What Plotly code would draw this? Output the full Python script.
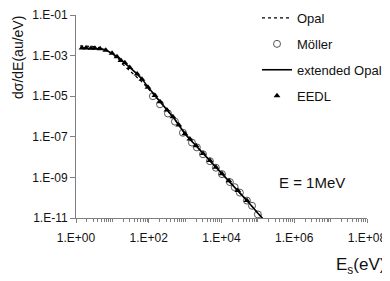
import plotly.graph_objects as go

# extended Opal (solid line)
ext_E = [1.3, 2, 3, 5, 7, 10, 15, 20, 30, 50, 70, 100, 200, 300, 500, 1000,
         2000, 3000, 5000, 1e4, 2e4, 5e4, 1e5, 2e5]
ext_y = [2.34e-3, 2.34e-3, 2.29e-3, 2.19e-3, 1.78e-3, 1.26e-3, 7.6e-4, 4.7e-4,
         2.6e-4, 1.15e-4, 6.0e-5, 2.5e-5, 5.6e-6, 2.4e-6, 7.9e-7, 1.38e-7,
         3.6e-8, 1.58e-8, 6.5e-9, 1.58e-9, 4.4e-10, 7.2e-11, 1.7e-11, 4.5e-12]

# Opal (dashed line)
opal_E = [1.3, 2, 3, 5, 7, 10, 15, 20, 30, 50, 70, 100, 200, 500, 1000, 2000,
          5000, 1e4, 2e4, 5e4, 1e5, 2e5]
opal_y = [3.0e-3, 3.0e-3, 2.8e-3, 2.4e-3, 1.82e-3, 1.2e-3, 6.3e-4, 3.5e-4,
          1.8e-4, 7.9e-5, 4.5e-5, 2.2e-5, 5.6e-6, 7.9e-7, 1.38e-7, 3.6e-8,
          6.5e-9, 1.58e-9, 4.4e-10, 7.2e-11, 1.7e-11, 4.5e-12]

# Moller (open circles)
moller_E = [130, 204, 337, 525, 870, 1540, 2100, 3100, 4800, 7000, 1.03e4,
            1.7e4, 2.3e4, 3.2e4, 5.0e4, 6.9e4, 1.0e5]
moller_y = [1.0e-5, 4.0e-6, 1.41e-6, 5.6e-7, 1.58e-7, 5.2e-8, 3.0e-8, 1.38e-8,
            6.3e-9, 3.0e-9, 1.45e-9, 5.9e-10, 3.3e-10, 1.78e-10, 7.2e-11,
            4.0e-11, 1.5e-11]

# EEDL (filled triangles)
eedl_E = [1.46, 1.88, 2.6, 3.3, 4.6, 6.6, 9.8, 13.4, 17.2, 22, 30, 48, 65, 95,
          148, 204, 316, 460, 670, 990, 1350, 2000, 3100, 4800, 7000, 1.03e4,
          1.6e4, 2.8e4, 5.0e4]
eedl_y = [2.34e-3, 2.34e-3, 2.3e-3, 2.3e-3, 2.2e-3, 1.82e-3, 1.29e-3, 8.7e-4,
          5.8e-4, 4.4e-4, 2.6e-4, 1.23e-4, 6.8e-5, 2.75e-5, 1.07e-5, 5.4e-6,
          2.1e-6, 9.8e-7, 3.8e-7, 1.41e-7, 7.8e-8, 3.6e-8, 1.51e-8, 6.8e-9,
          3.2e-9, 1.51e-9, 6.8e-10, 2.24e-10, 7.2e-11]

x_label_exp = [0, 2, 4, 6, 8]
x_tick_text = ["1.E+00", "1.E+02", "1.E+04", "1.E+06", "1.E+08"]
y_tick_exp = [-1, -3, -5, -7, -9, -11]
y_tick_text = ["1.E-01", "1.E-03", "1.E-05", "1.E-07", "1.E-09", "1.E-11"]

FONT = "Liberation Sans, Arial, sans-serif"
AX = "#808080"

# the page body has an 8px margin, so the figure is drawn 8px smaller
OFF = 8
W, H = 390 - OFF, 281 - OFF
# plot area in screen pixels: x 76..367, y 15..218
PL, PR, PT, PB = 76, 367, 15, 218
PW, PH = PR - PL, PB - PT


def px(xp):
    return (xp - PL) / PW


def py(yp):
    return (PB - yp) / PH


fig = go.Figure()
fig.add_trace(go.Scatter(x=opal_E, y=opal_y, mode="lines", name="Opal",
                         legendgroup="a",
                         line=dict(color="black", width=1.2, dash="3px,3px")))
fig.add_trace(go.Scatter(x=moller_E, y=moller_y, mode="markers", name="Möller",
                         legendgroup="b",
                         marker=dict(symbol="circle-open", size=7, color="#555555",
                                     line=dict(width=1, color="#555555"))))
fig.add_trace(go.Scatter(x=ext_E, y=ext_y, mode="lines", name="extended Opal",
                         legendgroup="c",
                         line=dict(color="black", width=1.6)))
fig.add_trace(go.Scatter(x=eedl_E, y=eedl_y, mode="markers", name="EEDL",
                         legendgroup="d",
                         marker=dict(symbol="triangle-up", size=6, color="black")))

# minor ticks: 2..9 within every decade plus the unlabelled odd decades
minor_vals = sorted([k * 10 ** d for d in range(0, 8) for k in range(2, 10)] +
                    [10 ** d for d in (1, 3, 5, 7)])

fig.update_layout(
    width=W, height=H,
    margin=dict(l=PL - OFF, r=W - (PR - OFF), t=PT - OFF, b=H - (PB - OFF),
                autoexpand=False),
    paper_bgcolor="white", plot_bgcolor="white",
    font=dict(family=FONT, size=12, color="#111111"),
    showlegend=True,
    legend=dict(x=px(257), y=py(3), xanchor="left", yanchor="top",
                bgcolor="rgba(0,0,0,0)", font=dict(size=13, family=FONT),
                tracegroupgap=6, itemwidth=30),
    xaxis=dict(type="log", range=[0, 8],
               tickvals=[10 ** e for e in x_label_exp], ticktext=x_tick_text,
               ticks="outside", ticklen=4, tickcolor=AX, showline=True,
               linecolor=AX, linewidth=1, showgrid=False, zeroline=False,
               ticklabelstandoff=5,
               minor=dict(tickvals=minor_vals, ticks="outside", ticklen=3,
                          tickcolor=AX, showgrid=False)),
    yaxis=dict(type="log", range=[-11, -1],
               tickvals=[10 ** e for e in y_tick_exp], ticktext=y_tick_text,
               ticks="outside", ticklen=5, tickcolor=AX, showline=True,
               linecolor=AX, linewidth=1, showgrid=False, zeroline=False),
    annotations=[
        dict(text="dσ/dE(au/eV)", xref="paper", yref="paper",
             x=px(18), y=py(57), textangle=-90,
             showarrow=False, xanchor="center", yanchor="middle",
             font=dict(size=14, family=FONT)),
        dict(text="E<sub>s</sub>(eV)", xref="paper", yref="paper",
             x=px(360), y=py(266), showarrow=False,
             xanchor="center", yanchor="middle", font=dict(size=17, family=FONT)),
        dict(text="E = 1MeV", xref="paper", yref="paper",
             x=px(312), y=py(182), showarrow=False,
             xanchor="center", yanchor="middle", font=dict(size=15, family=FONT)),
    ],
)

fig.write_html("out.html")
